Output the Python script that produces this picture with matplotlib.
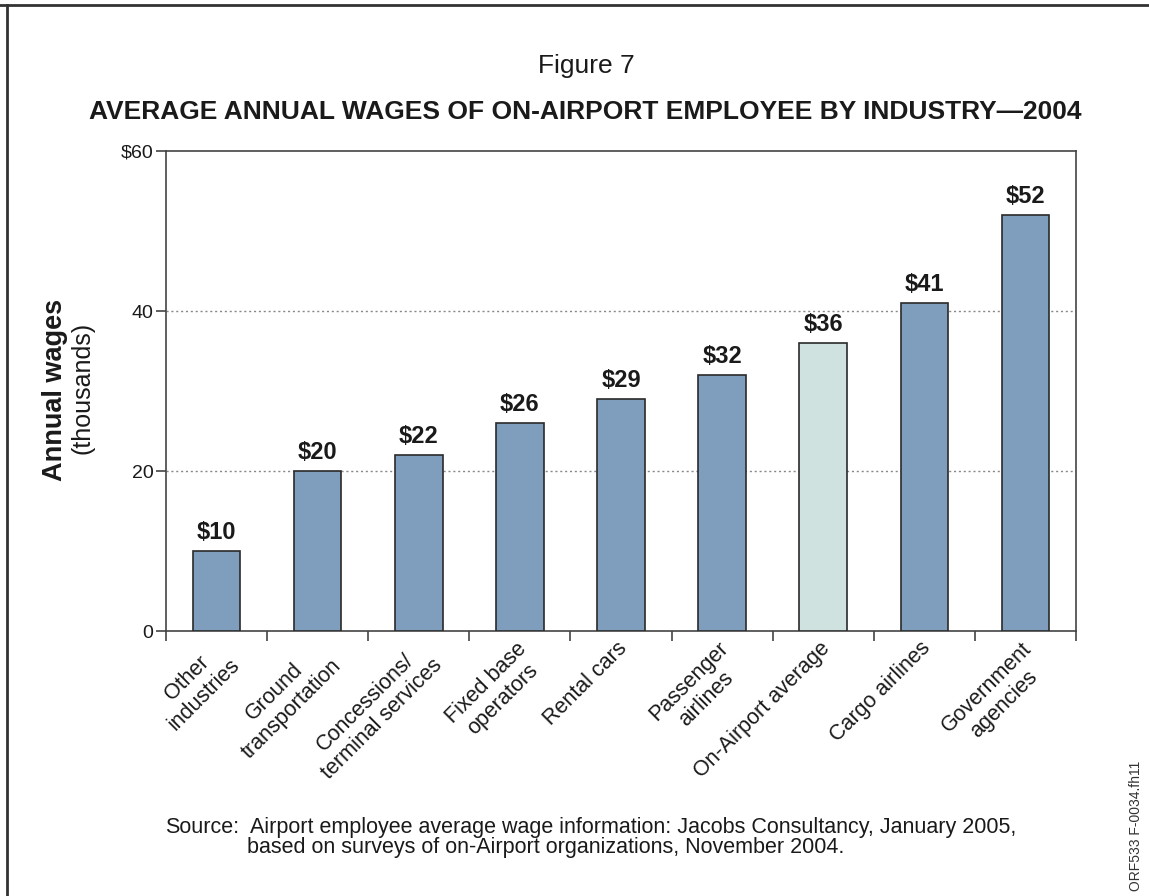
import matplotlib
matplotlib.use("Agg")
import matplotlib.pyplot as plt
from matplotlib.lines import Line2D

plt.rcParams['font.family'] = ['Liberation Sans', 'DejaVu Sans']

categories = ["Other\nindustries", "Ground\ntransportation", "Concessions/\nterminal services",
              "Fixed base\noperators", "Rental cars", "Passenger\nairlines",
              "On-Airport average", "Cargo airlines", "Government\nagencies"]
values = [10, 20, 22, 26, 29, 32, 36, 41, 52]
value_labels = ["$10", "$20", "$22", "$26", "$29", "$32", "$36", "$41", "$52"]
highlight = "On-Airport average"
yticks = [0, 20, 40, 60]
ytick_labels = ["0", "20", "40", "$60"]

TXT = "#1a1a1a"
W, H = 1149, 896
fig = plt.figure(figsize=(W / 100, H / 100), dpi=100)
ax = fig.add_axes([166 / W, 1 - 631 / H, 910 / W, 480 / H])

colors = ["#cfe2df" if c == highlight else "#7f9dbd" for c in categories]
x = list(range(len(categories)))
ax.bar(x, values, width=0.47, color=colors, edgecolor="#2a2a2a", linewidth=1.2, zorder=3)

for xi, v, lab in zip(x, values, value_labels):
    ax.annotate(lab, (xi, v), xytext=(0, 5), textcoords="offset points",
                ha="center", va="bottom", fontsize=17, fontweight="bold", color=TXT)

ax.set_xlim(-0.5, len(categories) - 0.5)
ax.set_ylim(0, 60)
ax.set_yticks(yticks)
ax.set_yticklabels(ytick_labels, fontsize=14, color=TXT)
for g in [20, 40]:
    ax.axhline(g, color="#888888", linestyle=(0, (1.5, 2)), linewidth=1, zorder=1)

# x ticks at category boundaries
ax.set_xticks([i - 0.5 for i in range(len(categories) + 1)])
ax.set_xticklabels([])
ax.tick_params(axis="x", direction="out", length=7.5, width=1.2, color="#444444")
ax.tick_params(axis="y", direction="out", length=7.5, width=1.2, color="#444444", pad=1.5)
for s in ax.spines.values():
    s.set_color("#444444")
    s.set_linewidth(1.2)

# rotated category labels
for xi, c in zip(x, categories):
    ax.annotate(c, (xi, 0), xycoords="data", xytext=(-3, -5), textcoords="offset points",
                rotation=45, rotation_mode="anchor", ha="right", va="top",
                multialignment="center", fontsize=15.5, color=TXT, linespacing=1.2)

# y label (two lines, bold + regular)
fig.text(55 / W, 1 - 390 / H, "Annual wages", rotation=90, ha="center", va="center",
         fontsize=19.5, fontweight="bold", color=TXT)
fig.text(82 / W, 1 - 388 / H, "(thousands)", rotation=90, ha="center", va="center",
         fontsize=18, color=TXT)

# titles
fig.text(586 / W, 1 - 66 / H, "Figure 7", ha="center", va="center", fontsize=19, color=TXT)
fig.text(585 / W, 1 - 112 / H, "AVERAGE ANNUAL WAGES OF ON-AIRPORT EMPLOYEE BY INDUSTRY\u20142004",
         ha="center", va="center", fontsize=19, fontweight="bold", color=TXT)

# source
fig.text(165 / W, 1 - 827 / H, "Source:", ha="left", va="center", fontsize=15.5, color=TXT)
fig.text(250 / W, 1 - 827 / H, "Airport employee average wage information: Jacobs Consultancy, January 2005,",
         ha="left", va="center", fontsize=15.5, color=TXT)
fig.text(247 / W, 1 - 847 / H, "based on surveys of on-Airport organizations, November 2004.",
         ha="left", va="center", fontsize=15.5, color=TXT)

fig.text(1136 / W, 1 - 826 / H, "ORF533 F-0034.fh11", rotation=90, ha="center", va="center",
         fontsize=10, color="#333333")

# frame lines (top and left)
fig.add_artist(Line2D([0, 1], [1 - 5 / H, 1 - 5 / H], transform=fig.transFigure, color="#333333", linewidth=2))
fig.add_artist(Line2D([7 / W, 7 / W], [0, 1 - 5 / H], transform=fig.transFigure, color="#333333", linewidth=2))

fig.savefig("out.png", dpi=100)
